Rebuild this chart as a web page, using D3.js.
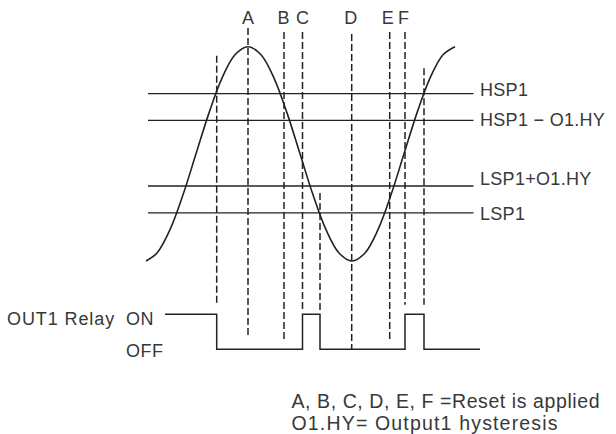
<!DOCTYPE html>
<html><head><meta charset="utf-8">
<script src="https://cdn.jsdelivr.net/npm/d3@7"></script>
<style>
html,body{margin:0;padding:0;background:#fff;}
text{font-family:"Liberation Sans",Arial,sans-serif;fill:#383838;}
</style></head>
<body><svg id="c" width="616" height="434"></svg>
<script>
// ---- data ----
// process value curve (time, value)
const curveTimes  = [-0.2,0.9,2.2,3.5,4.8,6.1,7.4,8.7,10.0,11.3,12.6,13.9,15.2,16.5,17.8,19.1,20.4,21.7,23.0,24.3,25.6,26.9,28.2,29.5,30.7];
const curveValues = [10,13.0,21.7,34.7,50,65.3,78.3,87.0,90,87.0,78.3,65.3,50,34.7,21.7,13.0,10,13.0,21.7,34.7,50,65.3,78.3,87.0,90];
// set-point levels
const levelNames  = ["HSP1","HSP1 \u2212 O1.HY","LSP1+O1.HY","LSP1"];
const levelValues = [72.5,62.5,38,28];
// reset markers
const markerNames = ["A","B","C","D","E","F"];
const markerTimes = [10.0,13.6,15.45,20.37,24.17,25.7];
// set-point crossings (unlabeled dashed)
const crossTimes  = [6.87,17.2,27.6];
// relay state changes
const relayTimes  = [1.7,6.87,15.45,17.2,25.7,27.6,33.2];
const relayStates = [1,0,1,0,1,0,0];
const relayLabels = ["ON","OFF"];
const notes = ["A, B, C, D, E, F =Reset is applied","O1.HY= Output1 hysteresis"];

// ---- scales ----
const svg = d3.select("#c");
const x = d3.scaleLinear().domain([0,10]).range([148,248]);
const y = d3.scaleLinear().domain([10,90]).range([261,46.7]);
const r = d3.scaleLinear().domain([0,1]).range([349.3,314.3]);
const ink = "#222";

// horizontal levels
svg.selectAll("line.lvl").data(levelValues).join("line")
  .attr("x1",x(0)).attr("x2",x(32.55))
  .attr("y1",d=>y(d)).attr("y2",d=>y(d))
  .attr("stroke",ink).attr("stroke-width",1.3);
const lblDy = [2.7,5.3,-1.3,6.9];
svg.selectAll("text.lvl").data(levelNames).join("text")
  .attr("x",x(33.2)).attr("y",(d,i)=>y(levelValues[i])+lblDy[i])
  .attr("font-size",18).attr("letter-spacing",0.3).text(d=>d);

// dashed verticals
const dashA = "7,3";
const mTop = [97,95.5,95.5,94.7,95.5,95.5];
const mBot = [0.32,0.26,1.12,0,0.22,1.27];
markerTimes.forEach((t,i)=>{
  svg.append("line").attr("x1",x(t)).attr("x2",x(t))
    .attr("y1",y(mTop[i])).attr("y2",r(mBot[i]))
    .attr("stroke",ink).attr("stroke-width",1.5).attr("stroke-dasharray",dashA);
});
const cTop = [86.6,35.4,82];
const cBot = [1.27,1.12,1.27];
crossTimes.forEach((t,i)=>{
  svg.append("line").attr("x1",x(t)).attr("x2",x(t))
    .attr("y1",y(cTop[i])).attr("y2",r(cBot[i]))
    .attr("stroke",ink).attr("stroke-width",1.5).attr("stroke-dasharray",dashA);
});
const mDx = [0,-0.5,0,-1,-2,-1.5];
svg.selectAll("text.mk").data(markerNames).join("text")
  .attr("x",(d,i)=>x(markerTimes[i])+mDx[i]).attr("y",23.5)
  .attr("text-anchor","middle").attr("font-size",18).text(d=>d);

// curve
const pts = curveTimes.map((t,i)=>[t,curveValues[i]]);
svg.append("path").datum(pts)
  .attr("d",d3.line().x(d=>x(d[0])).y(d=>y(d[1])).curve(d3.curveCatmullRom))
  .attr("fill","none").attr("stroke",ink).attr("stroke-width",1.6);

// relay
const rp = relayTimes.map((t,i)=>[t,relayStates[i]]);
svg.append("path").datum(rp)
  .attr("d",d3.line().x(d=>x(d[0])).y(d=>r(d[1])).curve(d3.curveStepAfter))
  .attr("fill","none").attr("stroke",ink).attr("stroke-width",1.5);
svg.append("text").attr("x",7).attr("y",r(1)+11).attr("font-size",18)
  .attr("letter-spacing",0.9).text("OUT1 Relay");
svg.selectAll("text.rl").data(relayLabels).join("text")
  .attr("x",126).attr("y",(d,i)=>i===0 ? r(1)+11 : r(0)+7.5)
  .attr("font-size",18).attr("letter-spacing",0.5).text(d=>d);

// notes
const noteLen = [308,266];
svg.selectAll("text.note").data(notes).join("text")
  .attr("x",291.5).attr("y",(d,i)=>408+i*22)
  .attr("font-size",19.5)
  .attr("textLength",(d,i)=>noteLen[i]).attr("lengthAdjust","spacing")
  .text(d=>d);
</script></body></html>
